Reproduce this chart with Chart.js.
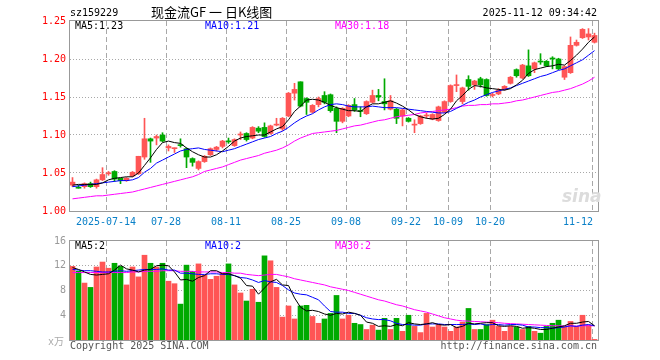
<!DOCTYPE html>
<html><head><meta charset="utf-8">
<script src="https://cdn.jsdelivr.net/npm/chart.js@4.4.0/dist/chart.umd.min.js"></script>
<style>
html,body{margin:0;padding:0;background:#fff;}
#wrap{position:relative;width:660px;height:360px;overflow:hidden;background:#fff;}
canvas{position:absolute;left:0;}
#c1{top:0;}
#c2{top:228px;}
.t{position:absolute;font-family:"DejaVu Sans Mono",monospace;font-size:10px;line-height:12px;white-space:nowrap;}
</style>
</head><body>
<div id="wrap">
<canvas id="c1" width="660" height="240"></canvas>
<canvas id="c2" width="660" height="132"></canvas>
<div class="t" style="left:70px;top:7px;color:#000">sz159229</div>
<div class="t" style="left:151px;top:4px;font-family:'Noto Sans CJK SC';font-size:13px;line-height:16px;color:#000;white-space:pre">现金流GF 一 日K线图</div>
<div class="t" style="right:63px;top:7px;color:#000">2025-11-12 09:34:42</div>
<div class="t" style="left:75px;top:20px;color:#000">MA5:1.23</div>
<div class="t" style="left:205px;top:20px;color:#0000ff">MA10:1.21</div>
<div class="t" style="left:335px;top:20px;color:#ff00ff">MA30:1.18</div>
<div class="t" style="left:75px;top:240px;color:#000">MA5:2</div>
<div class="t" style="left:205px;top:240px;color:#0000ff">MA10:2</div>
<div class="t" style="left:335px;top:240px;color:#ff00ff">MA30:2</div>
<div class="t" style="right:596px;top:335px;color:#aaa">x<span style="font-family:'Noto Sans CJK SC'">万</span></div>
<div class="t" style="left:70px;top:340px;color:#555">Copyright 2025 SINA.COM</div>
<div class="t" style="right:63px;top:340px;color:#555">http://finance.sina.com.cn</div>
<div class="t" style="left:562px;top:186px;font-family:'DejaVu Sans';font-size:17px;line-height:20px;font-style:italic;font-weight:bold;color:#dcdcdc">sina</div>
</div>
<script>
// ---- data ----
const dates = ['07-04','07-07','07-08','07-09','07-10','07-11','07-14','07-15','07-16','07-17',
'07-18','07-21','07-22','07-23','07-24','07-25','07-28','07-29','07-30','07-31',
'08-01','08-04','08-05','08-06','08-07','08-08','08-11','08-12','08-13','08-14',
'08-15','08-18','08-19','08-20','08-21','08-22','08-25','08-26','08-27','08-28',
'08-29','09-01','09-02','09-03','09-04','09-05','09-08','09-09','09-10','09-11',
'09-12','09-15','09-16','09-17','09-18','09-19','09-22','09-23','09-24','09-25',
'09-26','09-29','09-30','10-09','10-10','10-13','10-14','10-15','10-16','10-17',
'10-20','10-21','10-22','10-23','10-24','10-27','10-28','10-29','10-30','10-31',
'11-03','11-04','11-05','11-06','11-07','11-10','11-11','11-12'];
const tickDates = ['07-14','07-28','08-11','08-25','09-08','09-22','10-09','10-20','11-12'];
const tickLabels = ['2025-07-14','07-28','08-11','08-25','09-08','09-22','10-09','10-20','11-12'];
const priceTicks = [1.00,1.05,1.10,1.15,1.20,1.25];
const volTicks = [0,4,8,12,16];

const open = [1.034,1.031,1.032,1.036,1.032,1.041,1.049,1.052,1.043,1.040,
1.046,1.049,1.071,1.095,1.096,1.100,1.083,1.082,1.087,1.082,
1.069,1.056,1.065,1.074,1.081,1.085,1.092,1.086,1.100,1.102,
1.096,1.109,1.110,1.102,1.113,1.108,1.125,1.155,1.170,1.148,
1.130,1.140,1.152,1.153,1.135,1.118,1.125,1.140,1.132,1.128,
1.143,1.152,1.144,1.134,1.134,1.125,1.122,1.113,1.115,1.125,
1.121,1.119,1.130,1.144,1.165,1.144,1.173,1.166,1.174,1.173,
1.152,1.154,1.160,1.168,1.186,1.175,1.191,1.187,1.197,1.197,
1.201,1.200,1.176,1.182,1.218,1.228,1.229,1.222];
const close = [1.038,1.030,1.036,1.032,1.041,1.048,1.050,1.042,1.040,1.043,
1.051,1.072,1.095,1.092,1.098,1.092,1.085,1.083,1.086,1.071,
1.064,1.065,1.072,1.082,1.084,1.092,1.091,1.094,1.101,1.094,
1.110,1.105,1.098,1.112,1.114,1.122,1.155,1.160,1.138,1.143,
1.139,1.148,1.143,1.132,1.118,1.135,1.139,1.133,1.131,1.144,
1.152,1.150,1.141,1.145,1.122,1.133,1.118,1.114,1.125,1.126,
1.127,1.137,1.144,1.165,1.166,1.162,1.164,1.171,1.166,1.152,
1.153,1.159,1.164,1.176,1.178,1.192,1.178,1.195,1.196,1.191,
1.200,1.187,1.190,1.218,1.222,1.239,1.233,1.231];
const high = [1.044,1.034,1.037,1.038,1.042,1.057,1.052,1.053,1.043,1.044,
1.052,1.072,1.122,1.096,1.100,1.103,1.087,1.083,1.095,1.083,
1.070,1.066,1.073,1.083,1.085,1.093,1.096,1.095,1.104,1.103,
1.111,1.111,1.116,1.113,1.122,1.123,1.156,1.168,1.170,1.149,
1.140,1.150,1.157,1.154,1.137,1.136,1.140,1.148,1.137,1.145,
1.159,1.160,1.174,1.152,1.135,1.134,1.123,1.120,1.126,1.129,
1.128,1.138,1.145,1.166,1.179,1.163,1.178,1.172,1.176,1.174,
1.155,1.161,1.165,1.177,1.187,1.193,1.212,1.196,1.207,1.198,
1.203,1.201,1.191,1.229,1.225,1.240,1.240,1.234];
const low = [1.032,1.030,1.030,1.031,1.030,1.040,1.047,1.039,1.036,1.039,
1.045,1.048,1.068,1.064,1.087,1.091,1.079,1.077,1.084,1.057,
1.059,1.054,1.064,1.073,1.079,1.083,1.089,1.085,1.094,1.092,
1.095,1.103,1.097,1.101,1.112,1.106,1.124,1.146,1.137,1.127,
1.129,1.137,1.141,1.130,1.103,1.116,1.124,1.131,1.124,1.127,
1.142,1.145,1.133,1.133,1.115,1.112,1.117,1.103,1.114,1.122,
1.120,1.118,1.129,1.143,1.157,1.141,1.159,1.160,1.163,1.151,
1.150,1.153,1.159,1.167,1.176,1.174,1.177,1.182,1.193,1.190,
1.187,1.186,1.173,1.181,1.217,1.227,1.225,1.221];
const ma5 = [1.034,1.035,1.035,1.035,1.035,1.037,1.041,1.043,1.044,1.045,
1.045,1.050,1.060,1.070,1.081,1.090,1.092,1.090,1.089,1.083,
1.078,1.074,1.071,1.071,1.074,1.079,1.085,1.092,1.096,1.098,
1.099,1.100,1.100,1.104,1.108,1.111,1.120,1.131,1.138,1.146,
1.147,1.146,1.143,1.139,1.136,1.134,1.132,1.132,1.131,1.137,
1.141,1.141,1.143,1.145,1.142,1.138,1.133,1.127,1.124,1.122,
1.121,1.122,1.127,1.134,1.145,1.152,1.160,1.165,1.164,1.162,
1.161,1.160,1.159,1.161,1.166,1.172,1.181,1.186,1.188,1.190,
1.191,1.193,1.192,1.198,1.205,1.213,1.222,1.229];
const ma10 = [1.032,1.033,1.034,1.035,1.036,1.037,1.038,1.039,1.040,1.040,
1.041,1.044,1.051,1.056,1.063,1.067,1.071,1.075,1.079,1.081,
1.082,1.083,1.081,1.080,1.079,1.078,1.080,1.082,1.085,1.088,
1.091,1.094,1.096,1.098,1.102,1.105,1.110,1.116,1.121,1.125,
1.128,1.133,1.137,1.140,1.141,1.140,1.138,1.137,1.137,1.137,
1.138,1.137,1.136,1.136,1.136,1.135,1.134,1.133,1.132,1.131,
1.130,1.129,1.129,1.131,1.135,1.139,1.143,1.146,1.150,1.153,
1.156,1.158,1.160,1.162,1.165,1.168,1.171,1.174,1.177,1.179,
1.182,1.185,1.187,1.191,1.195,1.199,1.205,1.211];
const ma30 = [1.016,1.017,1.018,1.019,1.020,1.020,1.021,1.022,1.023,1.024,
1.025,1.027,1.029,1.031,1.033,1.035,1.037,1.039,1.041,1.043,
1.045,1.048,1.052,1.054,1.056,1.058,1.061,1.064,1.067,1.069,
1.071,1.073,1.076,1.078,1.080,1.083,1.087,1.092,1.096,1.099,
1.102,1.103,1.104,1.105,1.106,1.108,1.110,1.112,1.113,1.115,
1.117,1.119,1.120,1.122,1.124,1.125,1.126,1.127,1.129,1.130,
1.131,1.132,1.133,1.134,1.136,1.138,1.139,1.139,1.140,1.140,
1.141,1.141,1.142,1.143,1.145,1.146,1.148,1.150,1.152,1.154,
1.156,1.157,1.159,1.161,1.164,1.167,1.171,1.176];
const vol = [11.9,11.1,9.2,8.5,11.8,12.6,11.6,12.4,11.9,8.9,
11.8,10.2,13.7,12.4,11.8,12.4,9.5,9.1,5.8,12.1,
11.1,12.3,10.5,9.8,10.3,10.8,12.3,8.9,7.6,6.3,
8.2,6.1,13.6,12.8,8.5,3.7,5.5,3.4,5.5,5.6,
3.8,2.7,3.4,4.3,7.2,3.4,4.0,2.7,2.5,1.7,
2.4,1.6,3.5,1.7,3.5,1.4,4.0,2.2,1.2,4.3,
2.1,2.5,2.1,1.4,2.1,2.9,5.1,1.7,1.7,2.5,
3.2,2.2,1.4,2.2,2.1,1.7,2.2,1.4,1.1,2.2,
2.7,3.2,2.2,3.0,2.2,4.0,2.4,0.1];
const vma5 = [11.7,11.4,11.0,10.6,10.5,10.6,10.7,11.3,12.1,11.5,
11.3,11.0,11.3,11.4,12.0,12.1,12.0,11.0,9.7,9.8,
9.5,10.1,10.4,11.2,11.2,10.7,10.7,10.4,10.0,8.8,
8.7,7.4,8.4,9.4,9.8,8.9,8.8,6.8,5.3,4.7,
4.8,4.6,4.2,4.0,4.3,4.2,4.5,4.3,4.0,2.9,
2.7,2.2,2.3,2.2,2.5,2.3,2.8,2.6,2.5,2.6,
2.8,2.5,2.4,2.5,2.0,2.2,2.7,2.6,2.7,2.8,
2.8,2.3,2.2,2.3,2.2,1.9,2.0,1.9,1.7,1.7,
1.9,2.1,2.3,2.7,2.7,2.9,3.0,2.3];
const vma10 = [11.4,11.3,11.2,11.2,11.1,11.0,11.0,11.1,11.2,11.1,
11.2,11.3,11.4,11.4,11.4,11.5,11.3,11.3,10.8,10.8,
10.7,10.6,10.6,10.7,10.7,10.6,10.6,10.4,10.1,10.0,
9.7,9.3,9.6,9.4,9.3,8.8,8.1,7.6,7.4,7.3,
6.9,6.5,5.5,4.6,4.5,4.5,4.3,4.3,4.0,3.6,
3.4,3.3,3.3,3.1,2.7,2.5,2.5,2.4,2.4,2.6,
2.6,2.6,2.5,2.5,2.5,2.5,2.6,2.5,2.6,2.4,
2.5,2.5,2.4,2.5,2.5,2.4,2.1,2.1,2.0,2.0,
1.9,2.0,2.1,2.3,2.2,2.4,2.5,2.3];
const vma30 = [10.9,10.9,10.9,10.9,10.9,10.9,10.9,10.9,10.9,10.9,
11.0,11.0,11.1,11.1,11.1,11.2,11.2,11.2,11.1,11.1,
11.1,11.0,11.0,11.0,11.0,10.9,10.9,10.8,10.8,10.6,
10.5,10.4,10.5,10.6,10.6,10.4,10.2,9.9,9.7,9.5,
9.3,9.1,8.9,8.6,8.4,8.2,8.0,7.7,7.4,7.1,
6.8,6.5,6.3,6.0,5.7,5.5,5.2,4.9,4.7,4.5,
4.2,3.9,3.6,3.4,3.2,3.1,3.05,3.0,2.95,2.9,
2.85,2.8,2.7,2.65,2.6,2.55,2.5,2.45,2.4,2.35,
2.3,2.3,2.25,2.25,2.25,2.3,2.3,2.3];

// ---- styling ----
const RED = '#ff5555', GREEN = '#00aa00';
const MONO = '"DejaVu Sans Mono", monospace';
const idx = dates.map((d, i) => i);
const candleColors = idx.map(i => close[i] >= open[i] ? RED : GREEN);
const tickIdx = tickDates.map(d => dates.indexOf(d));
const X_MIN = -5 / 12, X_MAX = dates.length - 5 / 12;

function gridPlugin(hValues, drawXLabels) {
  return {
    id: 'sinaGrid',
    beforeDatasetsDraw(chart) {
      const { ctx, chartArea: a, scales } = chart;
      const xs = scales.x, ys = scales.y;
      ctx.save();
      ctx.lineWidth = 1;
      ctx.strokeStyle = '#a8a8a8';
      ctx.setLineDash([1, 2]);
      hValues.forEach(v => {
        const py = Math.floor(ys.getPixelForValue(v)) + 0.5;
        ctx.beginPath(); ctx.moveTo(a.left, py); ctx.lineTo(a.right, py); ctx.stroke();
      });
      ctx.setLineDash([5, 3]);
      tickIdx.forEach(i => {
        const px = Math.floor(xs.getPixelForValue(i)) - 2 + 0.5;
        ctx.beginPath(); ctx.moveTo(px, a.top); ctx.lineTo(px, a.bottom); ctx.stroke();
      });
      ctx.restore();
    },
    afterDatasetsDraw(chart) {
      const { ctx, chartArea: a, scales } = chart;
      ctx.save();
      ctx.strokeStyle = '#999';
      ctx.lineWidth = 1;
      ctx.setLineDash([]);
      ctx.strokeRect(a.left - 0.5, a.top - 0.5, a.right - a.left + 1, a.bottom - a.top + 1);
      if (drawXLabels) {
        const xs = scales.x;
        ctx.font = '10px ' + MONO;
        ctx.fillStyle = '#0a80c8';
        ctx.textBaseline = 'middle';
        tickIdx.forEach((i, k) => {
          const px = Math.floor(xs.getPixelForValue(i)) - 2;
          const last = k === tickIdx.length - 1;
          ctx.textAlign = last ? 'right' : 'center';
          ctx.fillText(tickLabels[k], last ? px + 1 : px, a.bottom + 11);
        });
      }
      ctx.restore();
    }
  };
}

function lineDs(data, color) {
  return { type: 'line', data: data.map((v, i) => ({ x: i, y: v })), borderColor: color,
    borderWidth: 1, pointRadius: 0, tension: 0, fill: false, order: 0 };
}

new Chart(document.getElementById('c1'), {
  type: 'bar',
  data: { datasets: [
    lineDs(ma5, '#000000'), lineDs(ma10, '#0000ff'), lineDs(ma30, '#ff00ff'),
    { data: idx.map(i => ({ x: i, y: [open[i], close[i]] })), backgroundColor: candleColors,
      barThickness: 5, minBarLength: 1, grouped: false, order: 1 },
    { data: idx.map(i => ({ x: i, y: [low[i], high[i]] })), backgroundColor: candleColors,
      barThickness: 1, minBarLength: 1, grouped: false, order: 2 }
  ]},
  options: {
    responsive: false, animation: false, devicePixelRatio: 1,
    layout: { padding: { top: 21, right: 62, bottom: 29, left: 0 } },
    plugins: { legend: { display: false }, tooltip: { enabled: false } },
    scales: {
      x: { type: 'linear', min: X_MIN, max: X_MAX, offset: false, display: false },
      y: { min: priceTicks[0], max: priceTicks[priceTicks.length - 1],
        afterFit(s) { s.width = 70; },
        afterBuildTicks(s) { s.ticks = priceTicks.map(v => ({ value: v })); },
        grid: { display: false, drawTicks: false }, border: { display: false },
        ticks: { color: '#ff0000', padding: 4, font: { family: MONO, size: 10 },
          callback: v => Number(v).toFixed(2) } }
    }
  },
  plugins: [gridPlugin(priceTicks.slice(1, -1), true)]
});

new Chart(document.getElementById('c2'), {
  type: 'bar',
  data: { datasets: [
    lineDs(vma5, '#000000'), lineDs(vma10, '#0000ff'), lineDs(vma30, '#ff00ff'),
    { data: idx.map(i => ({ x: i, y: vol[i] })), backgroundColor: candleColors,
      barThickness: 5, grouped: false, order: 1 }
  ]},
  options: {
    responsive: false, animation: false, devicePixelRatio: 1,
    layout: { padding: { top: 13, right: 62, bottom: 20, left: 0 } },
    plugins: { legend: { display: false }, tooltip: { enabled: false } },
    scales: {
      x: { type: 'linear', min: X_MIN, max: X_MAX, offset: false, display: false },
      y: { min: volTicks[0], max: volTicks[volTicks.length - 1],
        afterFit(s) { s.width = 70; },
        afterBuildTicks(s) { s.ticks = volTicks.map(v => ({ value: v })); },
        grid: { display: false, drawTicks: false }, border: { display: false },
        ticks: { color: '#999999', padding: 4, font: { family: MONO, size: 10 },
          callback: v => v === 0 ? '' : String(v) } }
    }
  },
  plugins: [gridPlugin(volTicks.slice(1, -1), false)]
});
</script>
</body></html>
